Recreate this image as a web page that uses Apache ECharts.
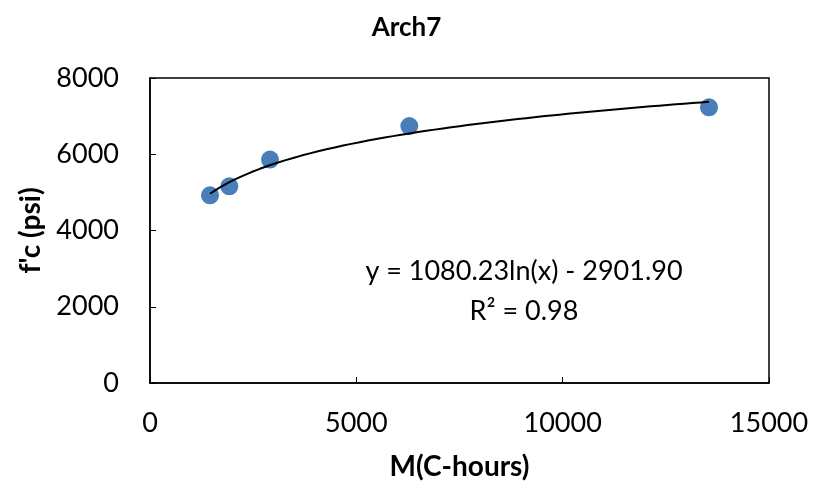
<!DOCTYPE html>
<html>
<head>
<meta charset="utf-8">
<script src="https://cdn.jsdelivr.net/npm/echarts@6/dist/echarts.min.js"></script>
<style>
  html, body { margin: 0; padding: 0; background: #fff; }
  #chart { width: 813px; height: 491px; }
</style>
</head>
<body>
<div id="chart"></div>
<script>
// maturity (C-hours) and strength (psi)
var maturity = [1454, 1922, 2908, 6284, 13546];
var strength = [4923, 5160, 5860, 6741, 7232];

// log trendline as printed on the chart
var trendA = 1080.23;
var trendB = -2901.9;
var trendText = ['y = 1080.23ln(x) - 2901.90', 'R² = 0.98'];

var xTicks = [0, 5000, 10000, 15000];
var yTicks = [0, 2000, 4000, 6000, 8000];

var pts = maturity.map(function (m, i) {
  return [m, strength[i]];
});

// sample the trendline between the first and last point
var trend = [];
var x0 = maturity[0];
var x1 = maturity[maturity.length - 1];
for (var i = 0; i <= 60; i++) {
  var x = x0 + (x1 - x0) * i / 60;
  trend.push([x, trendA * Math.log(x) + trendB]);
}

var font = 'Lato, "Open Sans", sans-serif';
var chart = echarts.init(document.getElementById('chart'));
chart.setOption({
  animation: false,
  title: {
    text: 'Arch7',
    left: 'center',
    top: 10,
    textStyle: { fontFamily: font, fontSize: 26, fontWeight: 'bold', color: '#000' },
  },
  grid: { left: 150, right: 44, top: 78, bottom: 108, show: true, borderColor: '#000', borderWidth: 1.5 },
  xAxis: {
    type: 'value',
    min: xTicks[0],
    max: xTicks[xTicks.length - 1],
    interval: 5000,
    name: 'M(C-hours)',
    nameLocation: 'middle',
    nameGap: 70,
    nameTextStyle: { fontFamily: font, fontSize: 28, fontWeight: 'bold', color: '#000' },
    axisLine: { lineStyle: { color: '#000', width: 1.5 } },
    axisTick: { inside: true, length: 6, lineStyle: { color: '#000' } },
    axisLabel: { margin: 27, fontFamily: font, fontSize: 27, color: '#000', formatter: function (v) { return String(v); } },
    splitLine: { show: false },
  },
  yAxis: {
    type: 'value',
    min: yTicks[0],
    max: yTicks[yTicks.length - 1],
    interval: 2000,
    name: "f'c (psi)",
    nameLocation: 'middle',
    nameGap: 105,
    nameTextStyle: { fontFamily: font, fontSize: 28, fontWeight: 'bold', color: '#000' },
    axisLine: { lineStyle: { color: '#000', width: 1.5 } },
    axisTick: { inside: true, length: 6, lineStyle: { color: '#000' } },
    axisLabel: { margin: 31, fontFamily: font, fontSize: 27, color: '#000', formatter: function (v) { return String(v); } },
    splitLine: { show: false },
  },
  graphic: [
    {
      type: 'text',
      x: 524, y: 271,
      style: { text: trendText[0], align: 'center', verticalAlign: 'middle', fontFamily: font, fontSize: 27, fill: '#000' },
    },
    {
      type: 'text',
      x: 524, y: 311,
      style: { text: trendText[1], align: 'center', verticalAlign: 'middle', fontFamily: font, fontSize: 27, fill: '#000' },
    },
  ],
  series: [
    {
      type: 'line',
      data: trend,
      showSymbol: false,
      lineStyle: { color: '#000', width: 2 },
      z: 3,
    },
    {
      type: 'scatter',
      data: pts,
      symbolSize: 18,
      itemStyle: { color: '#4a7ebb', opacity: 1 },
      z: 2,
    },
  ],
});
</script>
</body>
</html>
